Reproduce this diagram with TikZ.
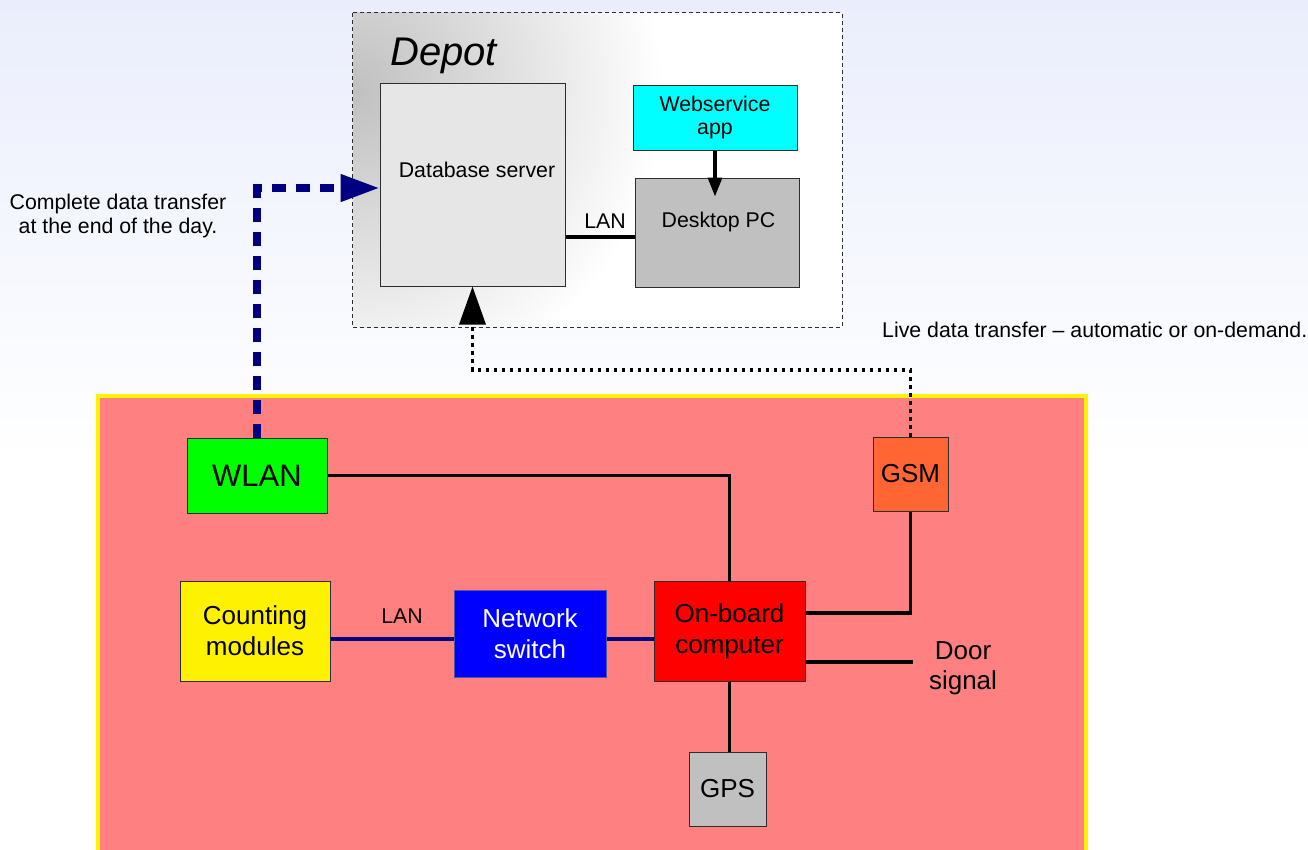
\documentclass[tikz,border=0pt]{standalone}
\usepackage{fontspec}
\setmainfont{Liberation Sans}
\usetikzlibrary{arrows.meta}
\definecolor{bgtop}{RGB}{234,238,252}
\definecolor{depotgray}{RGB}{192,192,192}
\definecolor{boxline}{RGB}{45,45,45}
\definecolor{dbgray}{RGB}{230,230,230}
\definecolor{pcgray}{RGB}{192,192,192}
\definecolor{webcyan}{RGB}{0,255,255}
\definecolor{vehred}{RGB}{255,128,128}
\definecolor{wlangreen}{RGB}{0,255,0}
\definecolor{gsmorange}{RGB}{255,102,51}
\definecolor{switchborder}{RGB}{85,85,160}
\definecolor{navyline}{RGB}{0,0,128}
\begin{document}
\begin{tikzpicture}[x=1pt,y=-1pt,
  box/.style={draw=boxline, line width=1pt, inner sep=0pt, rectangle},
  small/.style={font=\fontsize{21.3}{23.5}\selectfont, inner sep=0pt},
  big/.style={font=\fontsize{26}{31}\selectfont, align=center},
  wire/.style={line width=3.2pt, black},
  navywire/.style={line width=3.2pt, navyline},
]
\useasboundingbox (0,0) rectangle (1308,849);
\clip (0,0) rectangle (1308,849);
\fill[white] (0,0) rectangle (1308,849);
\shade[top color=bgtop, bottom color=white] (0,0) rectangle (1308,460);

% depot
\node[fill=white, inner sep=0pt, minimum width=489pt, minimum height=314pt] (depot) at (597.5,170) {};
\begin{scope}
  \clip (depot.north west) rectangle (depot.south east);
  \shade[inner color=depotgray, outer color=white] (353,90) circle (310);
\end{scope}
\draw[boxline, line width=1pt, dash pattern=on 4pt off 3pt] (depot.north west) rectangle (depot.south east);
\node[font=\fontsize{40}{48}\selectfont\itshape, anchor=base west, inner sep=0pt] (depottitle) at (390,65) {Depot};

\node[box, fill=dbgray, minimum width=185pt, minimum height=203pt] (db) at (472.5,184.5) {};
\node[small, anchor=base] (dbtext) at (477,177) {Database server};
\node[box, fill=webcyan, minimum width=164pt, minimum height=65pt, small, align=center] (web) at (715,117.5) {Webservice\\app};
\node[box, fill=pcgray, minimum width=164pt, minimum height=109pt] (pc) at (717,232.5) {};
\node[small, anchor=base] (pctext) at (718.5,227) {Desktop PC};
\node[small, anchor=base] (lan1) at (605,228) {LAN};

\node[small, align=center] (cdt) at (118,216) {Complete data transfer\\at the end of the day.};
\node[small, anchor=base west] (ldt) at (882,337) {Live data transfer – automatic or on-demand.};

% vehicle
\node[draw=yellow, line width=4pt, fill=vehred, inner sep=0pt, minimum width=988.5pt, minimum height=484pt] (bus) at (591.75,638) {};

\node[box, fill=wlangreen, minimum width=140pt, minimum height=75pt, font=\fontsize{31}{36}\selectfont] (wlan) at (257,475.5) {WLAN};
\node[box, fill=gsmorange, minimum width=75pt, minimum height=74pt, big] (gsm) at (910.5,474) {GSM};
\node[box, fill=yellow, minimum width=150pt, minimum height=100pt, big] (count) at (255,631) {Counting\\modules};
\node[box, draw=switchborder, fill=blue, text=white, minimum width=152pt, minimum height=87pt, big] (switch) at (530,633.5) {Network\\switch};
\node[box, fill=red, minimum width=151pt, minimum height=100pt, big] (obc) at (729.5,631.5) {On-board\\computer};
\node[box, fill=pcgray, minimum width=77pt, minimum height=74pt, big] (gps) at (727.5,789) {GPS};
\node[big, font=\fontsize{26}{30}\selectfont, inner sep=0pt] (door) at (963,668) {Door\\signal};
\node[small, anchor=base] (lan2) at (402,623) {LAN};
\coordinate (doorend) at (913,662);

% connectors in vehicle
\draw[wire] (wlan.east) -| (obc.north);
\draw[wire] (gsm.south) |- (obc.east |- 0,613);
\draw[wire] (obc.east |- 0,662) -- (doorend);
\draw[wire] (obc.south) -- (obc.south |- gps.north);
\draw[navywire] (count.east |- 0,639) -- (switch.west |- 0,639);
\draw[navywire] (switch.east |- 0,639) -- (obc.west |- 0,639);

% connectors in depot
\draw[wire, line width=3.5pt, -{Triangle[length=19pt,width=14pt]}] (web.south) -- ([yshift=-19pt]web.south |- pc.north);
\draw[wire] (db.east |- 0,237) -- (pc.west |- 0,237);

% data transfer arrows
\draw[navyline, line width=7.5pt, dash pattern=on 14pt off 10pt, -{Triangle[length=39pt,width=26pt]}]
  (wlan.north) |- (db.west |- 0,188);
\draw[black, line width=3.5pt, dash pattern=on 3.5pt off 4.5pt, -{Triangle[length=38pt,width=26pt]}]
  (gsm.north) |- (db.south |- 0,370) -- (db.south);
\end{tikzpicture}
\end{document}
